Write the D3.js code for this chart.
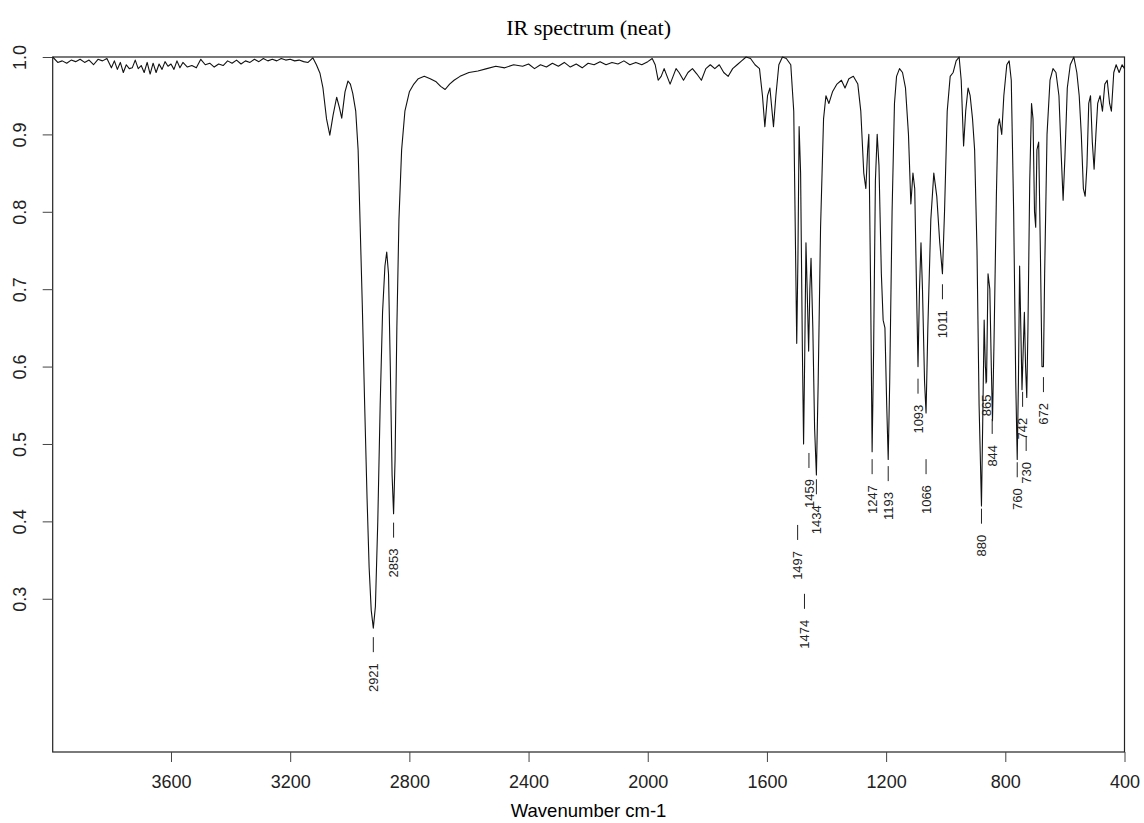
<!DOCTYPE html>
<html>
<head>
<meta charset="utf-8">
<script src="https://cdn.jsdelivr.net/npm/d3@7"></script>
<style>
body { margin:0; background:#fff; }
svg { display:block; font-family: "Liberation Sans", Arial, sans-serif; }
</style>
</head>
<body>
<svg width="1144" height="823"></svg>
<script>
// spectrum (wavenumber cm-1, transmittance)
var wavenumber = [
 3997,3980,3965,3950,3935,3920,3905,3890,3875,3860,3845,3830,3815,3800,3790,3780,3770,3760,3750,3740,
 3730,3720,3710,3700,3690,3680,3670,3660,3650,3640,3630,3620,3610,3600,3590,3580,3570,3560,3545,3530,
 3515,3500,3485,3470,3455,3440,3425,3410,3395,3380,3365,3350,3335,3320,3305,3290,3275,3260,3245,3230,
 3215,3200,3185,3170,3155,3140,3124,3112,3100,3090,3078,3067,3056,3044,3035,3027,3016,3006,2998,2990,
 2980,2972,2965,2958,2950,2942,2935,2928,2921,2914,2906,2898,2890,2882,2876,2870,2864,2858,2853,2848,
 2842,2835,2826,2815,2800,2785,2770,2750,2730,2710,2695,2680,2665,2650,2630,2600,2570,2540,2510,2480,
 2450,2420,2400,2380,2360,2340,2320,2300,2280,2260,2240,2220,2200,2180,2160,2140,2120,2100,2080,2060,
 2040,2020,2000,1985,1975,1965,1955,1945,1935,1925,1915,1905,1895,1880,1865,1850,1835,1820,1805,1790,
 1775,1760,1745,1730,1715,1700,1685,1670,1655,1640,1625,1615,1607,1598,1590,1578,1570,1560,1548,1535,
 1520,1510,1504,1500,1496,1492,1487,1481,1477,1473,1469,1465,1460,1456,1452,1446,1440,1434,1428,1420,
 1410,1402,1392,1380,1365,1350,1338,1325,1310,1295,1285,1275,1268,1262,1258,1252,1247,1242,1236,1230,
 1224,1216,1210,1204,1198,1193,1188,1180,1172,1165,1155,1145,1135,1125,1117,1110,1104,1098,1093,1088,
 1083,1078,1071,1066,1060,1050,1040,1030,1020,1011,1004,995,985,975,965,955,948,940,933,925,
 918,910,903,895,888,880,875,871,867,863,858,852,847,843,838,830,825,820,812,805,
 795,787,780,772,765,760,756,752,748,744,740,736,732,728,724,718,712,707,702,698,
 694,688,682,677,672,668,660,650,640,630,620,612,606,600,592,582,570,560,552,545,
 538,532,526,520,514,508,502,496,490,482,474,466,458,450,444,436,428,418,408,400
];
var transmittance = [
 1.0,0.993,0.995,0.992,0.996,0.994,0.997,0.993,0.996,0.990,0.997,0.995,0.998,0.986,0.995,0.984,0.993,0.980,0.990,0.985,
 0.986,0.996,0.985,0.989,0.980,0.993,0.978,0.992,0.980,0.991,0.984,0.994,0.988,0.991,0.984,0.995,0.986,0.993,0.987,0.989,
 0.986,0.997,0.990,0.992,0.987,0.991,0.989,0.995,0.992,0.996,0.991,0.995,0.993,0.997,0.994,0.998,0.995,0.997,0.995,0.998,
 0.996,0.997,0.995,0.996,0.994,0.993,0.999,0.990,0.979,0.960,0.920,0.899,0.925,0.948,0.935,0.921,0.955,0.969,0.965,0.953,
 0.930,0.880,0.780,0.680,0.550,0.430,0.340,0.285,0.262,0.290,0.400,0.550,0.670,0.730,0.748,0.720,0.600,0.460,0.410,0.480,
 0.650,0.790,0.880,0.930,0.955,0.965,0.972,0.975,0.972,0.968,0.962,0.958,0.965,0.970,0.975,0.980,0.982,0.985,0.988,0.986,
 0.990,0.988,0.991,0.985,0.990,0.987,0.992,0.988,0.993,0.987,0.991,0.986,0.992,0.990,0.994,0.990,0.993,0.991,0.995,0.990,
 0.993,0.990,0.994,0.998,0.990,0.970,0.975,0.985,0.975,0.965,0.975,0.985,0.980,0.970,0.980,0.985,0.978,0.970,0.985,0.990,
 0.985,0.990,0.980,0.975,0.985,0.990,0.995,1.000,0.998,0.990,0.985,0.950,0.910,0.950,0.960,0.910,0.950,0.990,1.000,0.998,
 0.990,0.930,0.750,0.630,0.740,0.910,0.850,0.620,0.500,0.620,0.760,0.700,0.620,0.700,0.740,0.650,0.520,0.460,0.580,0.780,
 0.920,0.950,0.940,0.955,0.965,0.970,0.960,0.972,0.975,0.965,0.930,0.850,0.830,0.880,0.900,0.700,0.490,0.620,0.840,0.900,
 0.860,0.720,0.660,0.650,0.550,0.480,0.580,0.800,0.940,0.975,0.985,0.980,0.960,0.900,0.810,0.850,0.830,0.700,0.600,0.700,
 0.760,0.700,0.580,0.540,0.650,0.790,0.850,0.820,0.760,0.720,0.800,0.930,0.975,0.980,0.995,1.000,0.970,0.885,0.930,0.960,
 0.950,0.920,0.880,0.750,0.550,0.420,0.550,0.660,0.600,0.580,0.720,0.700,0.600,0.530,0.630,0.820,0.910,0.920,0.900,0.950,
 0.990,0.995,0.970,0.800,0.580,0.480,0.580,0.730,0.650,0.570,0.620,0.670,0.600,0.560,0.650,0.840,0.940,0.920,0.800,0.780,
 0.880,0.890,0.740,0.600,0.600,0.720,0.900,0.970,0.985,0.980,0.950,0.870,0.815,0.870,0.960,0.990,1.000,0.980,0.950,0.900,
 0.830,0.820,0.860,0.940,0.950,0.890,0.855,0.900,0.940,0.950,0.930,0.965,0.970,0.940,0.930,0.980,0.990,0.980,0.990,0.985
];

// labelled peaks and the level where each label mark starts
var peakNames = ["2921","2853","1497","1474","1459","1434","1247","1193","1093","1066","1011",
                 "880","865","844","760","742","730","672"];
var peakWn = [2921,2853,1497,1474,1459,1434,1247,1193,1093,1066,1011,880,865,844,760,742,730,672];
var peakLevel = [0.262,0.410,0.407,0.318,0.500,0.466,0.492,0.483,0.596,0.492,0.718,
                 0.428,0.609,0.544,0.488,0.579,0.522,0.598];

var xTicks = [3600,3200,2800,2400,2000,1600,1200,800,400];
var yTicks = [0.3,0.4,0.5,0.6,0.7,0.8,0.9,1.0];

var svg = d3.select("svg");

var x = d3.scaleLinear().domain([3997,400]).range([52.7,1124.5]);
var y = d3.scaleLinear().domain([0.102,1.0]).range([752,57]);

// frame
svg.append("rect")
  .attr("x",x(3997)).attr("y",y(1.0))
  .attr("width",x(400)-x(3997)).attr("height",y(0.102)-y(1.0))
  .attr("fill","none").attr("stroke","#222").attr("stroke-width",1.2);

// x axis
var xAxis = svg.append("g")
  .attr("transform","translate(0,"+y(0.102)+")")
  .call(d3.axisBottom(x).tickValues(xTicks).tickSize(10).tickPadding(13).tickFormat(d3.format("d")));
xAxis.select(".domain").remove();
xAxis.selectAll("line").attr("stroke","#444");
xAxis.selectAll("text").attr("font-size",18).attr("fill","#222")
  .style("font-family","'Liberation Sans', Arial, sans-serif");

// y axis, labels turned like R does
var yAxis = svg.append("g")
  .attr("transform","translate("+x(3997)+",0)")
  .call(d3.axisLeft(y).tickValues(yTicks).tickSize(10).tickFormat(d3.format(".1f")));
yAxis.select(".domain").remove();
yAxis.selectAll("line").attr("stroke","#444");
yAxis.selectAll("text")
  .attr("x",null).attr("dy",null)
  .attr("transform","translate(-33,0) rotate(-90)")
  .attr("text-anchor","middle")
  .attr("dy","0.35em")
  .attr("font-size",18).attr("fill","#222")
  .style("font-family","'Liberation Sans', Arial, sans-serif");

// spectrum line
var pts = wavenumber.map(function(w,i){ return [w, transmittance[i]]; });
var line = d3.line()
  .x(function(d){ return x(d[0]); })
  .y(function(d){ return y(d[1]); });

svg.append("path")
  .datum(pts)
  .attr("d",line)
  .attr("fill","none")
  .attr("stroke","#111")
  .attr("stroke-width",1.1)
  .attr("stroke-linejoin","round");

// peak labels
var peaks = svg.append("g").attr("class","peaks");
peakWn.forEach(function(w,i){
  var px = x(w), py = y(peakLevel[i]);
  peaks.append("line")
    .attr("x1",px).attr("x2",px)
    .attr("y1",py+9).attr("y2",py+24)
    .attr("stroke","#222").attr("stroke-width",1);
  peaks.append("text")
    .attr("transform","translate("+px+","+(py+35)+") rotate(-90)")
    .attr("text-anchor","end")
    .attr("dy","0.35em")
    .attr("font-size",13)
    .attr("fill","#222")
    .text(peakNames[i]);
});

// titles
svg.append("text")
  .attr("x",(x(3997)+x(400))/2).attr("y",35)
  .attr("text-anchor","middle")
  .style("font-family","'Liberation Serif', 'Times New Roman', serif")
  .attr("font-size",22)
  .text("IR spectrum (neat)");

svg.append("text")
  .attr("x",(x(3997)+x(400))/2).attr("y",817)
  .attr("text-anchor","middle")
  .attr("font-size",18.5)
  .text("Wavenumber cm-1");
</script>
</body>
</html>
